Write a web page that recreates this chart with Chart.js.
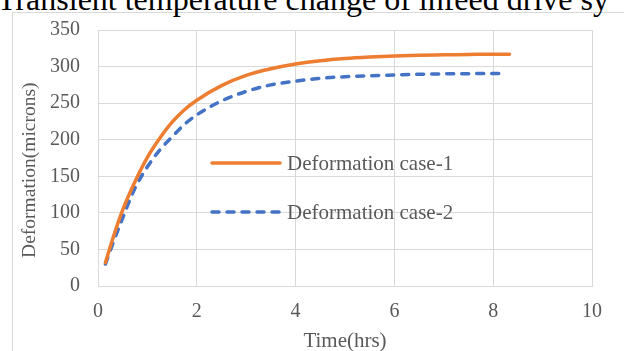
<!DOCTYPE html>
<html>
<head>
<meta charset="utf-8">
<script src="https://cdn.jsdelivr.net/npm/chart.js@4.4.1/dist/chart.umd.min.js"></script>
<style>
  html, body { margin: 0; padding: 0; background: #fff; overflow: hidden; }
  body { width: 624px; height: 351px; position: relative; }
  #frame { position: absolute; left: 12px; top: 12px; width: 700px; height: 400px;
           border-left: 1px solid #d9d9d9; border-top: 1px solid #d9d9d9; }
  #title { position: absolute; left: -3px; top: -17px; font: 32px "Liberation Serif", serif;
           line-height: 32px; white-space: nowrap; color: #000; }
  #box { position: absolute; left: 0; top: 0; width: 624px; height: 354px; }
</style>
</head>
<body>
<div id="frame"></div>
<div id="title">Transient temperature change of infeed drive sy</div>
<div id="box"><canvas id="myChart"></canvas></div>
<script>
// valores
const time_case1 = [0.15, 0.3, 0.5, 0.75, 1, 1.25, 1.5, 1.75, 2, 2.5, 3, 3.5, 4, 4.5, 5, 5.5, 6, 6.5, 7, 7.5, 8, 8.33];
const deform_case1 = [32, 65, 104, 143, 176, 202, 224, 241, 254, 274, 288, 297, 303.5, 308, 311, 313, 314.5, 315.5, 316, 316.5, 317, 317];
const time_case2 = [0.15, 0.3, 0.5, 0.75, 1, 1.25, 1.5, 1.75, 2, 2.5, 3, 3.5, 4, 4.5, 5, 5.5, 6, 6.5, 7, 7.5, 8, 8.26];
const deform_case2 = [30, 58, 93, 134, 163, 186, 204, 221, 234, 253, 266, 275, 280, 284, 286, 287.5, 288.5, 289.5, 290, 290.3, 290.6, 290.7];
const series_names = ['Deformation case-1', 'Deformation case-2'];
const x_ticks = [0, 2, 4, 6, 8, 10];
const y_ticks = [0, 50, 100, 150, 200, 250, 300, 350];

const FONT = '"Liberation Serif", "Times New Roman", serif';
const GREY = '#595959';
const GRID = '#d9d9d9';

function to_points(xs, ys){
    let pts = [];
    for(let i = 0; i < xs.length; i++){
        pts.push({x: xs[i], y: ys[i]});
    }
    return pts;
}

// leyenda dentro del area de la grafica
const inner_legend = {
    id: 'inner_legend',
    afterDraw(chart){
        const ctx = chart.ctx;
        const rows = [163, 212];
        ctx.save();
        chart.data.datasets.forEach((ds, i) => {
            let y = rows[i];
            ctx.beginPath();
            ctx.strokeStyle = ds.borderColor;
            ctx.lineWidth = ds.borderWidth;
            ctx.lineCap = 'round';
            ctx.setLineDash(ds.borderDash || []);
            ctx.moveTo(212, y);
            ctx.lineTo(280, y);
            ctx.stroke();
            ctx.setLineDash([]);
            ctx.fillStyle = GREY;
            ctx.font = '21px ' + FONT;
            ctx.textBaseline = 'middle';
            ctx.textAlign = 'left';
            ctx.fillText(ds.label, 287, y + 1);
        });
        ctx.restore();
    }
};

var atx = document.getElementById('myChart').getContext('2d');
const lineChart = new Chart(atx, {
    type: 'line',
    data: {
        datasets: [
            {
                label: series_names[0],
                data: to_points(time_case1, deform_case1),
                borderColor: '#ED7D31',
                borderWidth: 3.5,
                borderCapStyle: 'round',
                pointRadius: 0,
                cubicInterpolationMode: 'monotone'
            },
            {
                label: series_names[1],
                data: to_points(time_case2, deform_case2),
                borderColor: '#4472C4',
                borderWidth: 3.5,
                borderDash: [7, 8],
                borderCapStyle: 'round',
                pointRadius: 0,
                cubicInterpolationMode: 'monotone'
            }
        ]
    },
    options: {
        responsive: true,
        maintainAspectRatio: false,
        animation: false,
        layout: { padding: { left: 12, top: 29, right: 32, bottom: 0 } },
        plugins: { legend: { display: false }, tooltip: { enabled: false } },
        scales: {
            x: {
                type: 'linear',
                min: 0,
                max: 10,
                afterFit: (s) => { s.height = 68; },
                afterBuildTicks: (s) => { s.ticks = x_ticks.map(v => ({value: v})); },
                grid: { color: GRID, drawTicks: false },
                border: { color: GRID },
                ticks: { color: GREY, font: { family: FONT, size: 20 }, padding: 14 },
                title: { display: true, text: 'Time(hrs)', color: GREY,
                         font: { family: FONT, size: 21 }, padding: { top: 0, bottom: 0 } }
            },
            y: {
                min: 0,
                max: 350,
                afterFit: (s) => { s.width = 86; },
                afterBuildTicks: (s) => { s.ticks = y_ticks.map(v => ({value: v})); },
                grid: { color: GRID, drawTicks: false },
                border: { color: GRID },
                ticks: { color: GREY, font: { family: FONT, size: 20 }, padding: 18 },
                title: { display: true, text: 'Deformation(microns)     ', color: GREY,
                         font: { family: FONT, size: 19.5 }, padding: { top: 6, bottom: 0 } }
            }
        }
    },
    plugins: [inner_legend]
});
</script>
</body>
</html>
